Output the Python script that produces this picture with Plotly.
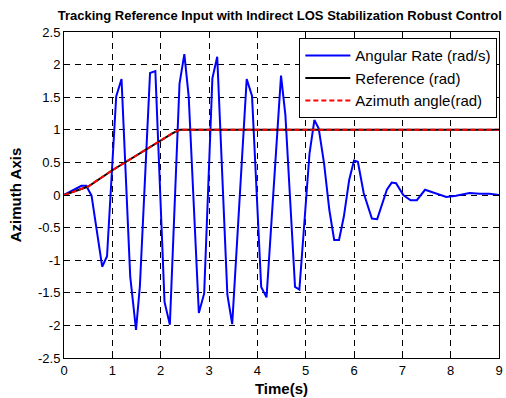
import plotly.graph_objects as go

# Data
t_rate = [0, 0.12, 0.36, 0.46, 0.57, 0.79, 0.89, 1.08, 1.19, 1.37, 1.49, 1.57, 1.78, 1.89,
          2.08, 2.19, 2.39, 2.49, 2.58, 2.79, 2.90, 3.07, 3.17, 3.38, 3.48, 3.78, 3.89,
          4.08, 4.19, 4.49, 4.58, 4.78, 4.87, 5.08, 5.18, 5.27, 5.38, 5.49, 5.59, 5.69,
          5.79, 5.90, 6.00, 6.08, 6.20, 6.37, 6.48, 6.68, 6.78, 6.87, 7.02, 7.17, 7.30,
          7.47, 7.60, 7.77, 7.91, 8.11, 8.39, 8.60, 8.80, 9.00]
angular_rate = [0, 0.05, 0.14, 0.14, -0.01, -1.10, -0.94, 1.51, 1.78, -1.25, -2.07, -1.40,
                1.87, 1.90, -1.64, -1.99, 1.71, 2.16, 1.51, -1.81, -1.51, 1.79, 2.12, -1.53,
                -1.98, 1.78, 1.52, -1.41, -1.57, 1.83, 1.23, -1.41, -1.45, 0.64, 1.15, 1.02,
                0.49, -0.23, -0.69, -0.69, -0.33, 0.23, 0.53, 0.51, 0.03, -0.36, -0.37, 0.08,
                0.19, 0.18, 0.00, -0.08, -0.08, 0.08, 0.05, 0.00, -0.03, -0.01, 0.03, 0.02,
                0.02, 0.00]

t_ref = [0, 0.2, 0.5, 1.0, 1.5, 2.0, 2.25, 2.4, 9.0]
reference = [0, 0.05, 0.13, 0.38, 0.61, 0.84, 0.95, 1.0, 1.0]
azimuth = [0, 0.05, 0.13, 0.38, 0.61, 0.84, 0.95, 1.0, 1.0]

x_ticks = [0, 1, 2, 3, 4, 5, 6, 7, 8, 9]
y_ticks = [-2.5, -2, -1.5, -1, -0.5, 0, 0.5, 1, 1.5, 2, 2.5]
y_ticktext = ["-2.5", "-2", "-1.5", "-1", "-0.5", "0", "0.5", "1", "1.5", "2", "2.5"]

FONT = "Liberation Sans, Arial, sans-serif"

fig = go.Figure()
fig.add_trace(go.Scatter(x=t_rate, y=angular_rate, mode="lines", name="Angular Rate (rad/s)",
                         line=dict(color="#0000ff", width=2)))
fig.add_trace(go.Scatter(x=t_ref, y=reference, mode="lines", name="Reference (rad)",
                         line=dict(color="#000000", width=2)))
fig.add_trace(go.Scatter(x=t_ref, y=azimuth, mode="lines", name="Azimuth angle(rad)",
                         line=dict(color="#ff0000", width=2, dash="5px,3px")))

axis_common = dict(
    showline=True, linecolor="black", linewidth=1, mirror="ticks",
    ticks="inside", ticklen=5, tickcolor="black",
    showgrid=True, gridcolor="black", gridwidth=1, griddash="6px,5px",
    zeroline=False, tickfont=dict(family=FONT, size=13, color="black"),
    ticklabeloverflow="allow",
)

fig.update_xaxes(range=[0, 9], tickvals=x_ticks, ticktext=[str(v) for v in x_ticks],
                 title=dict(text="<b>Time(s)</b>", font=dict(family=FONT, size=15, color="black"),
                            standoff=6),
                 **axis_common)
fig.update_yaxes(range=[-2.5, 2.5], tickvals=y_ticks, ticktext=y_ticktext,
                 title=dict(text="<b>Azimuth Axis</b>", font=dict(family=FONT, size=15, color="black"),
                            standoff=12),
                 **axis_common)

fig.update_layout(
    width=506, height=398,
    margin=dict(l=64, r=3, t=32, b=40),
    paper_bgcolor="white", plot_bgcolor="white",
    title=dict(text="<b>Tracking Reference Input with Indirect LOS Stabilization Robust Control</b>",
               font=dict(family=FONT, size=13, color="black"),
               x=0.553, xanchor="center", y=0.962, yanchor="middle"),
    legend=dict(x=0.541, xanchor="left", y=0.981, yanchor="top",
                bgcolor="white", bordercolor="black", borderwidth=1,
                font=dict(family=FONT, size=15, color="black"),
                tracegroupgap=0, itemwidth=45),
    showlegend=True,
)

fig.write_html("out.html")
